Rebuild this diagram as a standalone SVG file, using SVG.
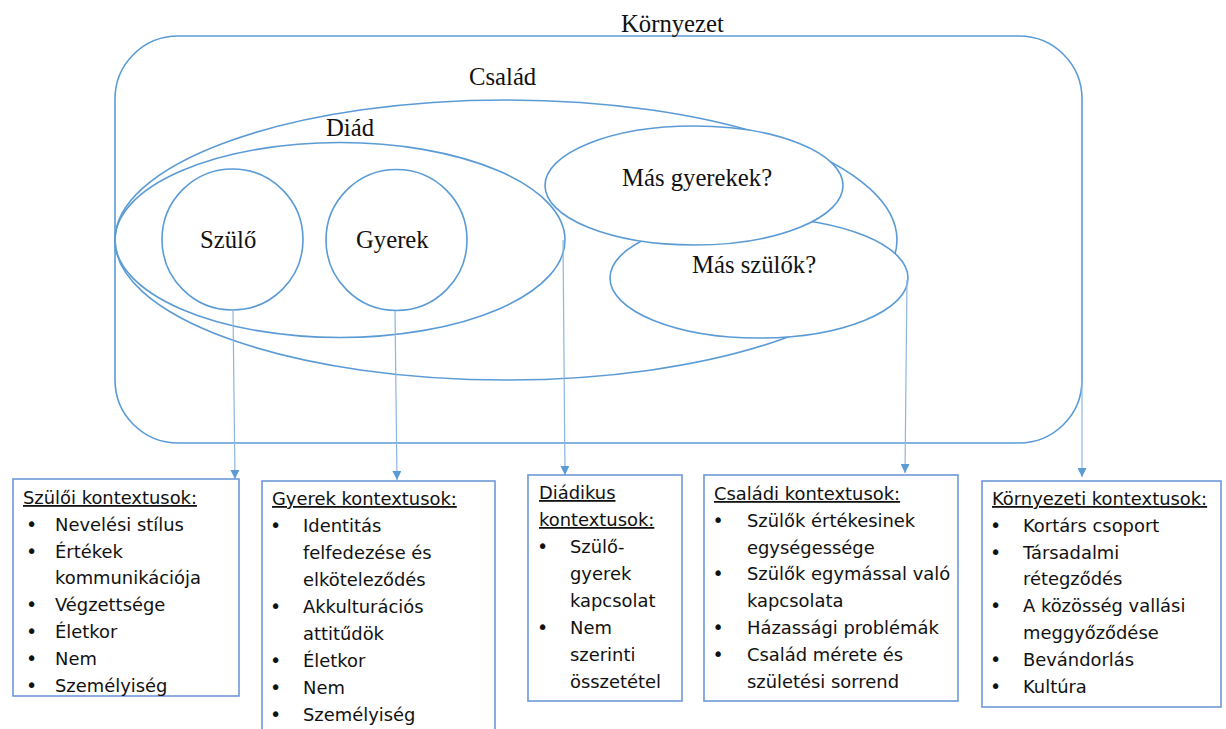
<svg xmlns="http://www.w3.org/2000/svg" width="1226" height="729" viewBox="0 0 1226 729">
<defs>
<style>
.shape{fill:none;stroke:#5B9BD5;stroke-width:1.6}
.filled{fill:#ffffff;stroke:#5B9BD5;stroke-width:1.6}
.lbl{font-family:"Liberation Serif","Times New Roman",serif;font-size:24.7px;fill:#111}
.box{fill:#ffffff;stroke:#6E98D8;stroke-width:1.6}
.t{font-family:"DejaVu Sans","Noto Sans",sans-serif;font-size:17.9px;fill:#111}
.u{text-decoration:underline}
.b{text-anchor:middle;font-size:19px}
.conn{stroke:#8DB6E2;stroke-width:1.2;fill:none}
</style>
<marker id="arr" viewBox="0 0 10 10" refX="10" refY="5" markerWidth="9" markerHeight="9" markerUnits="userSpaceOnUse" orient="auto">
<path d="M0,0 L10,5 L0,10 z" fill="#5B9BD5"/>
</marker>
</defs>
<rect width="1226" height="729" fill="#ffffff"/>

<g id="kornyezet">
<rect class="shape" x="115" y="36" width="967" height="407" rx="63" ry="63"/>
<text class="lbl" x="621" y="32">Környezet</text>
</g>

<g id="csalad">
<ellipse class="shape" cx="506" cy="240" rx="391" ry="140"/>
<text class="lbl" x="469" y="85">Család</text>
</g>

<g id="mas-szulok">
<ellipse class="filled" cx="759" cy="278" rx="149" ry="60"/>
<text class="lbl" x="692" y="273">Más szülők?</text>
</g>

<g id="mas-gyerekek">
<ellipse class="filled" cx="694" cy="185.5" rx="149" ry="59.5"/>
<text class="lbl" x="622" y="186">Más gyerekek?</text>
</g>

<g id="diad">
<ellipse class="shape" cx="340" cy="240" rx="225" ry="97.5"/>
<text class="lbl" x="326" y="136">Diád</text>
</g>

<g id="szulo">
<circle class="shape" cx="232.5" cy="239.5" r="70.5"/>
<text class="lbl" x="200" y="248">Szülő</text>
</g>

<g id="gyerek">
<circle class="shape" cx="396.5" cy="240" r="70.5"/>
<text class="lbl" x="356" y="248">Gyerek</text>
</g>

<g id="connectors">
<line class="conn" x1="233" y1="310" x2="235" y2="479" marker-end="url(#arr)"/>
<line class="conn" x1="395" y1="311" x2="397" y2="480" marker-end="url(#arr)"/>
<line class="conn" x1="563" y1="240" x2="565" y2="475" marker-end="url(#arr)"/>
<line class="conn" x1="907" y1="280" x2="905" y2="473" marker-end="url(#arr)"/>
<line class="conn" x1="1082" y1="380" x2="1082" y2="477" marker-end="url(#arr)"/>
</g>

<g id="szuloi-kontextusok">
<rect class="box" x="13" y="479" width="226" height="217"/>
<text class="t u" x="23" y="504">Szülői kontextusok:</text>
<text class="t b" x="31.5" y="530.8">•</text><text class="t" x="55" y="530.8">Nevelési stílus</text>
<text class="t b" x="31.5" y="557.6">•</text><text class="t" x="55" y="557.6">Értékek</text>
<text class="t" x="55" y="584.4">kommunikációja</text>
<text class="t b" x="31.5" y="611.2">•</text><text class="t" x="55" y="611.2">Végzettsége</text>
<text class="t b" x="31.5" y="638">•</text><text class="t" x="55" y="638">Életkor</text>
<text class="t b" x="31.5" y="664.8">•</text><text class="t" x="55" y="664.8">Nem</text>
<text class="t b" x="31.5" y="691.6">•</text><text class="t" x="55" y="691.6">Személyiség</text>
</g>

<g id="gyerek-kontextusok">
<rect class="box" x="262" y="481" width="233" height="260"/>
<text class="t u" x="272" y="505">Gyerek kontextusok:</text>
<text class="t b" x="275.5" y="532">•</text><text class="t" x="303" y="532">Identitás</text>
<text class="t" x="303" y="559">felfedezése és</text>
<text class="t" x="303" y="586">elköteleződés</text>
<text class="t b" x="275.5" y="613">•</text><text class="t" x="303" y="613">Akkulturációs</text>
<text class="t" x="303" y="640">attitűdök</text>
<text class="t b" x="275.5" y="667">•</text><text class="t" x="303" y="667">Életkor</text>
<text class="t b" x="275.5" y="694">•</text><text class="t" x="303" y="694">Nem</text>
<text class="t b" x="275.5" y="721">•</text><text class="t" x="303" y="721">Személyiség</text>
</g>

<g id="diadikus-kontextusok">
<rect class="box" x="528" y="475" width="154" height="226"/>
<text class="t u" x="539" y="499">Diádikus</text>
<text class="t u" x="539" y="526">kontextusok:</text>
<text class="t b" x="542.5" y="553">•</text><text class="t" x="570" y="553">Szülő-</text>
<text class="t" x="570" y="580">gyerek</text>
<text class="t" x="570" y="607">kapcsolat</text>
<text class="t b" x="542.5" y="634">•</text><text class="t" x="570" y="634">Nem</text>
<text class="t" x="570" y="661">szerinti</text>
<text class="t" x="570" y="688">összetétel</text>
</g>

<g id="csaladi-kontextusok">
<rect class="box" x="704" y="475" width="254" height="226"/>
<text class="t u" x="714" y="500">Családi kontextusok:</text>
<text class="t b" x="718" y="526.8">•</text><text class="t" x="747" y="526.8">Szülők értékesinek</text>
<text class="t" x="747" y="553.6">egységessége</text>
<text class="t b" x="718" y="580.4">•</text><text class="t" x="747" y="580.4">Szülők egymással való</text>
<text class="t" x="747" y="607.2">kapcsolata</text>
<text class="t b" x="718" y="634">•</text><text class="t" x="747" y="634">Házassági problémák</text>
<text class="t b" x="718" y="660.8">•</text><text class="t" x="747" y="660.8">Család mérete és</text>
<text class="t" x="747" y="687.6">születési sorrend</text>
</g>

<g id="kornyezeti-kontextusok">
<rect class="box" x="982" y="481" width="239" height="226"/>
<text class="t u" x="992" y="505">Környezeti kontextusok:</text>
<text class="t b" x="995.5" y="531.8">•</text><text class="t" x="1023" y="531.8">Kortárs csoport</text>
<text class="t b" x="995.5" y="558.6">•</text><text class="t" x="1023" y="558.6">Társadalmi</text>
<text class="t" x="1023" y="585.4">rétegződés</text>
<text class="t b" x="995.5" y="612.2">•</text><text class="t" x="1023" y="612.2">A közösség vallási</text>
<text class="t" x="1023" y="639">meggyőződése</text>
<text class="t b" x="995.5" y="665.8">•</text><text class="t" x="1023" y="665.8">Bevándorlás</text>
<text class="t b" x="995.5" y="692.6">•</text><text class="t" x="1023" y="692.6">Kultúra</text>
</g>
</svg>
